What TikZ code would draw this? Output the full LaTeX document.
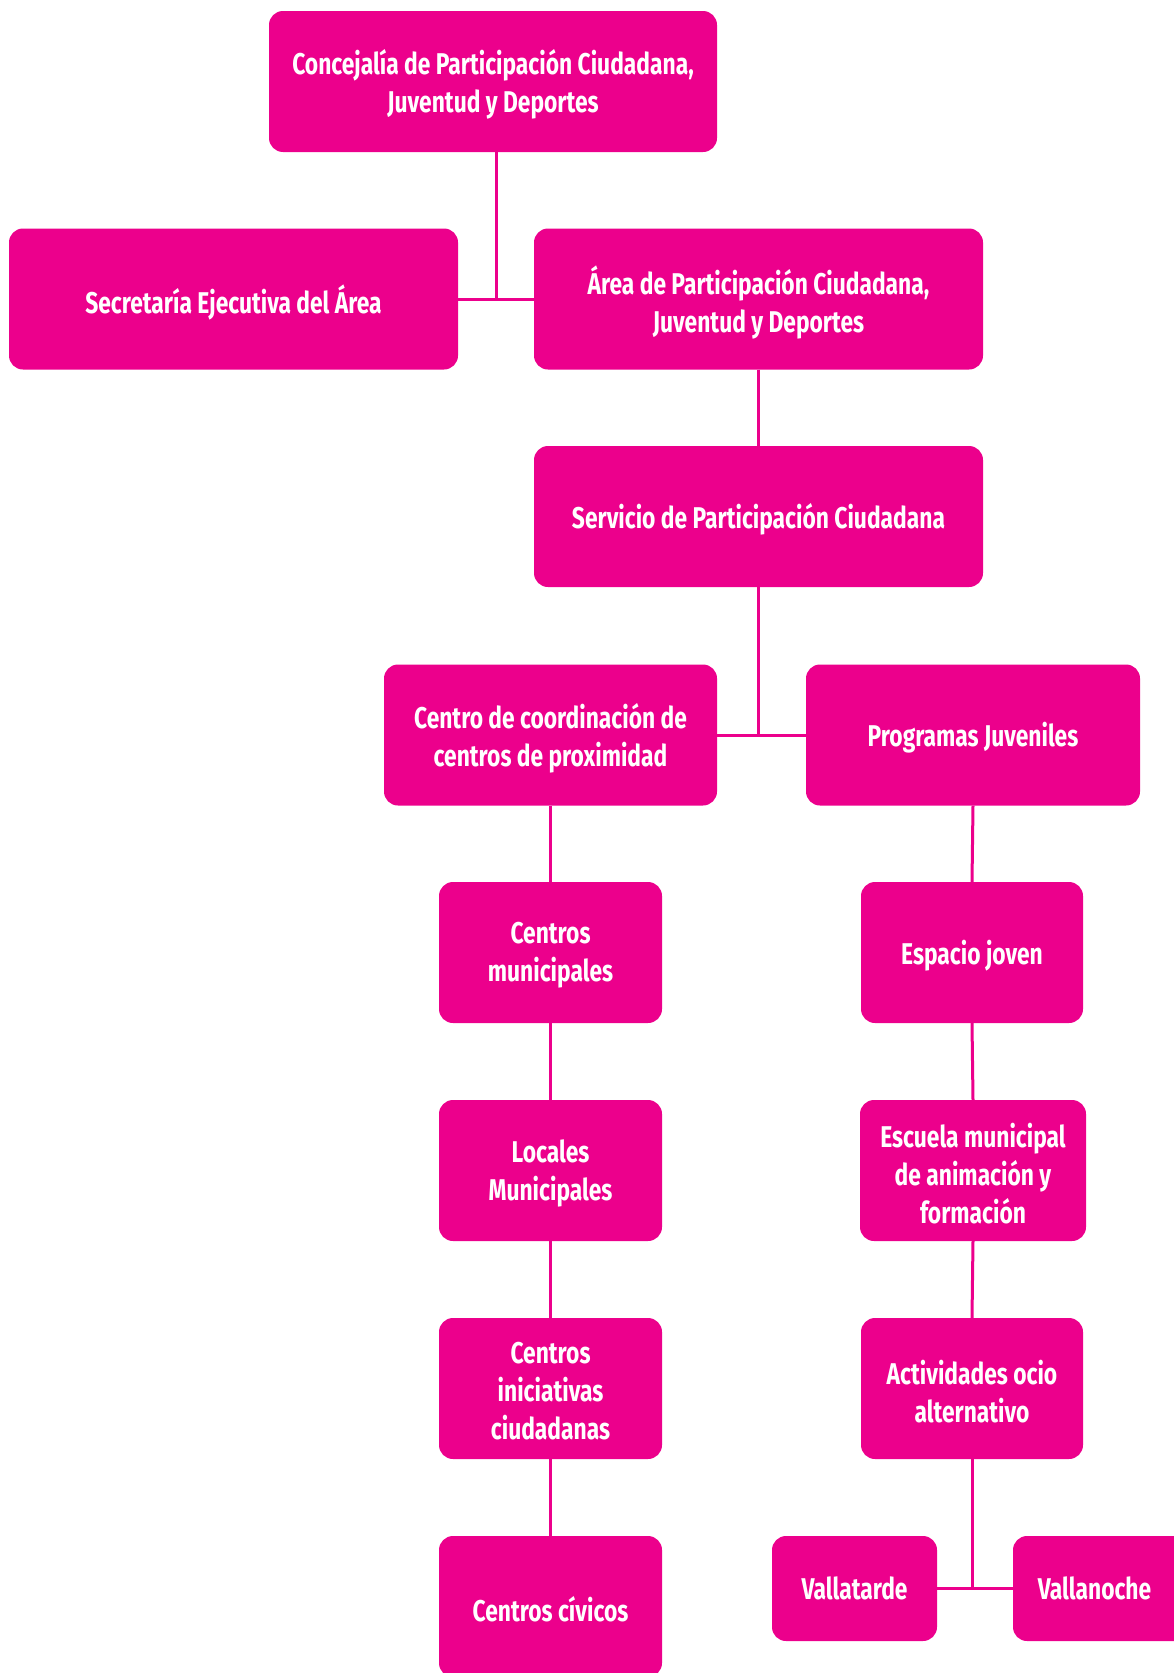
\documentclass[tikz,border=0pt]{standalone}
\usepackage{fontspec}
\setmainfont{Fira Sans}[FakeStretch=0.76]
\definecolor{mag}{HTML}{EC008C}
\begin{document}
\begin{tikzpicture}[x=1pt,y=-1pt,
  box/.style={fill=mag, rounded corners=14pt, inner sep=0pt, minimum height=141pt},
  lab/.style={text=white, font=\fontsize{30}{38}\selectfont\bfseries, align=center, yshift=-3pt, inner sep=0pt},
  conn/.style={draw=mag, line width=3pt}]
\useasboundingbox (0,0) rectangle (1173,1673);
\node[box, minimum width=448pt, label={[lab]center:{Concejalía de Participación Ciudadana,\\Juventud y Deportes}}] (conc) at (493,81.5) {};
\node[box, minimum width=449pt, label={[lab]center:{Secretaría Ejecutiva del Área}}] (sec) at (233.5,299) {};
\node[box, minimum width=449pt, label={[lab]center:{Área de Participación Ciudadana,\\Juventud y Deportes}}] (area) at (758.5,299) {};
\node[box, minimum width=449pt, label={[lab]center:{Servicio de Participación Ciudadana}}] (serv) at (758.5,516.5) {};
\node[box, minimum width=333pt, label={[lab]center:{Centro de coordinación de\\centros de proximidad}}] (cent) at (550.5,735) {};
\node[box, minimum width=334pt, label={[lab]center:{Programas Juveniles}}] (prog) at (973,735) {};
\node[box, minimum width=223pt, label={[lab]center:{Centros\\municipales}}] (cmun) at (550.5,952.5) {};
\node[box, minimum width=222pt, label={[lab]center:{Espacio joven}}] (esp) at (972,952.5) {};
\node[box, minimum width=223pt, label={[lab]center:{Locales\\Municipales}}] (loc) at (550.5,1170.5) {};
\node[box, minimum width=226pt, label={[lab]center:{Escuela municipal\\de animación y\\formación}}] (esc) at (973,1170.5) {};
\node[box, minimum width=223pt, label={[lab]center:{Centros\\iniciativas\\ciudadanas}}] (cini) at (550.5,1388.5) {};
\node[box, minimum width=222pt, label={[lab]center:{Actividades ocio\\alternativo}}] (act) at (972,1388.5) {};
\node[box, minimum width=223pt, label={[lab]center:{Centros cívicos}}] (civ) at (550.5,1606.5) {};
\node[box, minimum width=165pt, minimum height=105pt, label={[lab, yshift=3pt]center:{Vallatarde}}] (vt) at (854.5,1588.5) {};
\node[box, minimum width=185pt, minimum height=105pt, label={[lab, yshift=3pt, xshift=-11pt]center:{Vallanoche}}] (vn) at (1105.5,1588.5) {};
\coordinate (j1) at (496,299);
\draw[conn] (sec.east) -- (area.west);
\draw[conn] (conc.south -| j1) -- (j1);
\draw[conn] (area.south) -- (serv.north);
\draw[conn] (cent.east) -- (prog.west);
\draw[conn] (serv.south) -- (serv.south |- cent.east);
\draw[conn] (cent.south) -- (cmun.north);
\draw[conn] (cmun.south) -- (loc.north);
\draw[conn] (loc.south) -- (cini.north);
\draw[conn] (cini.south) -- (civ.north);
\draw[conn] (prog.south) -- (esp.north);
\draw[conn] (esp.south) -- (esc.north);
\draw[conn] (esc.south) -- (act.north);
\draw[conn] (vt.east) -- (vn.west);
\draw[conn] (act.south) -- (act.south |- vt.east);
\end{tikzpicture}
\end{document}
